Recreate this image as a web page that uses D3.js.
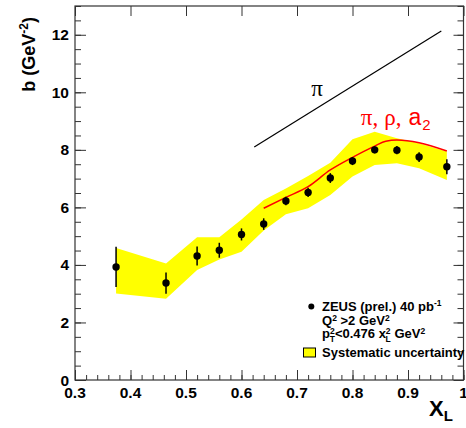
<!DOCTYPE html>
<html>
<head>
<meta charset="utf-8">
<script src="https://cdn.jsdelivr.net/npm/d3@7"></script>
<style>
  body { margin: 0; background: #fff; }
  svg text { font-family: "Liberation Sans", Arial, sans-serif; }
</style>
</head>
<body>
<div id="container"></div>
<script>
/* DATA */
const xL     = [0.374, 0.464, 0.52, 0.56, 0.60, 0.64, 0.68, 0.72, 0.76, 0.80, 0.84, 0.88, 0.92, 0.97];
const bVal   = [3.93, 3.37, 4.31, 4.51, 5.06, 5.42, 6.22, 6.52, 7.02, 7.61, 8.00, 7.99, 7.75, 7.41];
const bErr   = [0.70, 0.37, 0.33, 0.26, 0.21, 0.20, 0.15, 0.16, 0.17, 0.14, 0.12, 0.14, 0.17, 0.26];
const sysUp  = [4.59, 4.05, 4.96, 4.96, 5.58, 6.26, 6.66, 7.09, 7.55, 8.37, 8.63, 8.40, 8.23, 7.94];
const sysLo  = [3.01, 2.82, 3.82, 4.19, 4.46, 5.20, 5.76, 5.97, 6.43, 7.07, 7.47, 7.53, 7.36, 6.95];

const modelX = [0.64, 0.68, 0.72, 0.76, 0.80, 0.84, 0.86, 0.88, 0.92, 0.97];
const modelB = [5.97, 6.35, 6.72, 7.30, 7.74, 8.13, 8.30, 8.34, 8.25, 7.96];

const piX = [0.623, 0.96];
const piB = [8.10, 12.13];

const xTicks = [0.3, 0.4, 0.5, 0.6, 0.7, 0.8, 0.9, 1.0];
const yTicks = [0, 2, 4, 6, 8, 10, 12];

/* CONSTANTS */
const width = 466, height = 428;
const mLeft = 75, mRight = 463.5, mTop = 6, mBottom = 380;
const frameColor = "#333";

const svg = d3.select("#container").append("svg")
  .attr("width", width).attr("height", height);

const x = d3.scaleLinear().domain([0.3, 1.0]).range([mLeft, mRight]);
const y = d3.scaleLinear().domain([0, 13]).range([mBottom, mTop]);

/* BAND */
const band = xL.map((d, i) => ({x: d, hi: sysUp[i], lo: sysLo[i]}));
svg.append("path")
  .datum(band)
  .attr("d", d3.area().x(d => x(d.x)).y0(d => y(d.lo)).y1(d => y(d.hi)))
  .attr("fill", "#ffff00");

/* LINES */
svg.append("path")
  .datum(piX.map((d, i) => [d, piB[i]]))
  .attr("d", d3.line().x(d => x(d[0])).y(d => y(d[1])))
  .attr("stroke", "#000").attr("stroke-width", 1.2).attr("fill", "none");

svg.append("path")
  .datum(modelX.map((d, i) => [d, modelB[i]]))
  .attr("d", d3.line().x(d => x(d[0])).y(d => y(d[1])).curve(d3.curveMonotoneX))
  .attr("stroke", "#ff0000").attr("stroke-width", 1.5).attr("fill", "none");

/* POINTS */
const pts = xL.map((d, i) => ({x: d, b: bVal[i], e: bErr[i]}));
svg.selectAll(".err").data(pts).join("line")
  .attr("class", "err")
  .attr("x1", d => x(d.x)).attr("x2", d => x(d.x))
  .attr("y1", d => y(d.b - d.e)).attr("y2", d => y(d.b + d.e))
  .attr("stroke", "#000").attr("stroke-width", 1.5);
svg.selectAll(".dot").data(pts).join("circle")
  .attr("class", "dot")
  .attr("cx", d => x(d.x)).attr("cy", d => y(d.b)).attr("r", 3.7)
  .attr("fill", "#000");

/* AXES */
const fmtX = d => d === 1 ? "1" : d.toFixed(1);

const xAxis = svg.append("g").attr("transform", `translate(0,${mBottom})`)
  .call(d3.axisTop(x).tickValues(d3.range(0.3, 1.0001, 0.02)).tickSize(5).tickFormat(""));
xAxis.append("g").call(d3.axisTop(x).tickValues(xTicks).tickSize(10).tickFormat(""));
svg.append("g").attr("transform", `translate(0,${mBottom})`)
  .selectAll("text").data(xTicks).join("text")
  .attr("x", d => x(d)).attr("y", 18)
  .attr("text-anchor", "middle").attr("font-size", 15.5).attr("font-weight", "bold")
  .text(fmtX);

// top: major only
svg.append("g").attr("transform", `translate(0,${mTop})`)
  .call(d3.axisBottom(x).tickValues(xTicks).tickSize(10).tickFormat(""));

// left
const yAxis = svg.append("g").attr("transform", `translate(${mLeft},0)`)
  .call(d3.axisRight(y).tickValues(d3.range(0, 13.01, 0.5)).tickSize(6).tickFormat(""));
yAxis.append("g").call(d3.axisRight(y).tickValues(yTicks).tickSize(11).tickFormat(""));
svg.append("g").selectAll("text").data(yTicks).join("text")
  .attr("x", 69).attr("y", d => y(d) + 5.5)
  .attr("text-anchor", "end").attr("font-size", 15.5).attr("font-weight", "bold")
  .text(d => d);

// right
const rAxis = svg.append("g").attr("transform", `translate(${mRight},0)`)
  .call(d3.axisLeft(y).tickValues(d3.range(0, 13.01, 0.5)).tickSize(6).tickFormat(""));
rAxis.append("g").call(d3.axisLeft(y).tickValues(yTicks).tickSize(10).tickFormat(""));

svg.selectAll(".domain").remove();
svg.selectAll(".tick line").attr("stroke", frameColor);

svg.append("rect")
  .attr("x", mLeft).attr("y", mTop).attr("width", mRight - mLeft).attr("height", mBottom - mTop)
  .attr("fill", "none").attr("stroke", frameColor).attr("stroke-width", 1.2);

/* TITLES */
const yt = svg.append("text")
  .attr("transform", `translate(35,17) rotate(-90)`)
  .attr("text-anchor", "end").attr("font-size", 18).attr("font-weight", "bold");
yt.append("tspan").text("b (GeV");
yt.append("tspan").attr("font-size", 12).attr("dy", -7).text("-2");
yt.append("tspan").attr("dy", 7).text(")");

const xt = svg.append("text").attr("x", 429).attr("y", 416)
  .attr("font-size", 22).attr("font-weight", "bold");
xt.append("tspan").text("X");
xt.append("tspan").attr("font-size", 15).attr("dy", 5).text("L");

/* CURVE LABELS */
svg.append("text").attr("x", x(0.736)).attr("y", y(9.87))
  .attr("text-anchor", "middle").attr("font-size", 23)
  .style("font-family", "'Liberation Serif', 'DejaVu Serif', serif")
  .text("π");

const rl = svg.append("text").attr("x", x(0.815)).attr("y", y(8.86))
  .attr("font-size", 23).attr("fill", "#ff0000")
  .style("font-family", "'Liberation Serif', 'DejaVu Serif', serif");
rl.append("tspan").text("π,");
rl.append("tspan").attr("dx", 6).text("ρ,");
rl.append("tspan").attr("dx", 7).style("font-family", "'Liberation Sans', Arial, sans-serif").text("a");
rl.append("tspan").attr("font-size", 15).attr("dx", 1).attr("dy", 5)
  .style("font-family", "'Liberation Sans', Arial, sans-serif").text("2");

/* LEGEND */
const lg = svg.append("g").attr("font-size", 13).attr("font-weight", "bold");
lg.append("circle").attr("cx", 311.3).attr("cy", 306.5).attr("r", 3).attr("fill", "#000");
const l1 = lg.append("text").attr("x", 322).attr("y", 311);
l1.append("tspan").text("ZEUS (prel.) 40 pb");
l1.append("tspan").attr("font-size", 8.5).attr("dy", -5).text("-1");

const l2 = lg.append("text").attr("x", 322).attr("y", 325);
l2.append("tspan").text("Q");
l2.append("tspan").attr("font-size", 8.5).attr("dy", -4.5).text("2");
l2.append("tspan").attr("dy", 4.5).text(" >2 GeV");
l2.append("tspan").attr("font-size", 8.5).attr("dy", -4.5).text("2");

const l3 = lg.append("text").attr("x", 322).attr("y", 338);
l3.append("tspan").text("p");
l3.append("tspan").attr("font-size", 8.5).attr("dy", -4.5).text("2");
l3.append("tspan").attr("font-size", 8.5).attr("dx", -5).attr("dy", 8.5).text("T");
l3.append("tspan").attr("dy", -4).text("<0.476 x");
l3.append("tspan").attr("font-size", 8.5).attr("dy", -4.5).text("2");
l3.append("tspan").attr("font-size", 8.5).attr("dx", -5).attr("dy", 8.5).text("L");
l3.append("tspan").attr("dy", -4).text(" GeV");
l3.append("tspan").attr("font-size", 8.5).attr("dy", -4.5).text("2");

lg.append("rect").attr("x", 303.5).attr("y", 348).attr("width", 12).attr("height", 9)
  .attr("fill", "#ffff00").attr("stroke", "#000").attr("stroke-width", 1);
lg.append("text").attr("x", 322).attr("y", 357).text("Systematic uncertainty");
</script>
</body>
</html>
